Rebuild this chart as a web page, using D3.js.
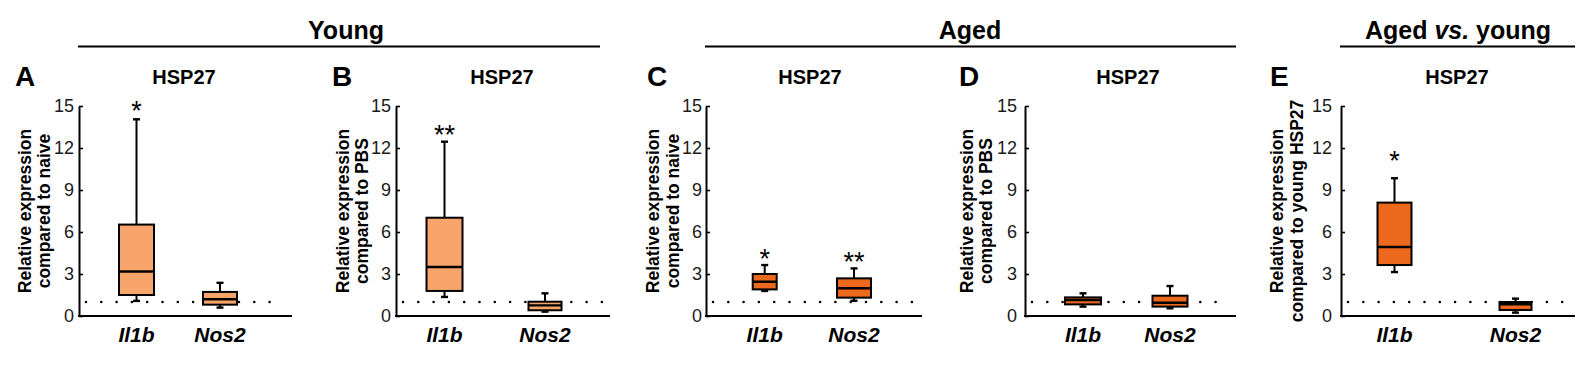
<!DOCTYPE html>
<html>
<head>
<meta charset="utf-8">
<script src="https://cdn.jsdelivr.net/npm/d3@7"></script>
<style>
  html, body { margin: 0; padding: 0; background: #fff; }
  svg { display: block; font-family: "Liberation Sans", Arial, sans-serif; }
</style>
</head>
<body>
<svg id="chart" width="1595" height="365"></svg>
<script>
// ---------------- DATA ----------------
const categories = ["Il1b", "Nos2"];
const panelLetters = ["A", "B", "C", "D", "E"];
const panelTitles = ["HSP27", "HSP27", "HSP27", "HSP27", "HSP27"];
const yTitles = [
  ["Relative expression", "compared to naive"],
  ["Relative expression", "compared to PBS"],
  ["Relative expression", "compared to naive"],
  ["Relative expression", "compared to PBS"],
  ["Relative expression", "compared to young HSP27"]
];
const yTicks = [0, 3, 6, 9, 12, 15];
const yDomain = [0, 15];
const referenceLevel = 1;
// box statistics per category: [min, q1, median, q3, max]
const statsA = [[1.08, 1.5, 3.18, 6.53, 14.05], [0.6, 0.81, 1.2, 1.72, 2.37]];
const statsB = [[1.36, 1.79, 3.5, 7.02, 12.45], [0.31, 0.41, 0.76, 1.02, 1.62]];
const statsC = [[1.79, 1.9, 2.45, 3.0, 3.64], [1.09, 1.31, 1.98, 2.69, 3.4]];
const statsD = [[0.67, 0.83, 1.14, 1.33, 1.62], [0.55, 0.67, 0.95, 1.45, 2.14]];
const statsE = [[3.14, 3.64, 4.93, 8.1, 9.84], [0.24, 0.43, 0.84, 1.0, 1.24]];
const significance = [["*", ""], ["**", ""], ["*", "**"], ["", ""], ["*", ""]];
const groupHeaders = [["Young"], ["Aged"], ["Aged ", "vs.", " young"]];

// ---------------- LAYOUT / STYLE ----------------
const young = "#F8A56B", aged = "#EC681D";
const layout = [
  { x0: 79,   x1: 292,  c: [136.5, 220],     bw: [35, 34], fill: young, t1: -48, t2: -29, pad: 5, sigGap: 7,  letterX: 15,   titleX: 184 },
  { x0: 396,  x1: 610,  c: [444.5, 545],     bw: [36, 33], fill: young, t1: -47, t2: -28, pad: 5, sigGap: 6,  letterX: 332,  titleX: 502 },
  { x0: 706,  x1: 922,  c: [764.7, 854],     bw: [24, 34], fill: aged,  t1: -47, t2: -27, pad: 4, sigGap: 5,  letterX: 647,  titleX: 810 },
  { x0: 1025, x1: 1236, c: [1083, 1170],     bw: [36, 35], fill: aged,  t1: -52, t2: -33, pad: 8, sigGap: 6,  letterX: 959,  titleX: 1128 },
  { x0: 1341, x1: 1575, c: [1394.5, 1515.5], bw: [34, 32], fill: aged,  t1: -58, t2: -38, pad: 9, sigGap: 16, letterX: 1270, titleX: 1457 }
];
const headerLayout = [
  { cx: 346, lx0: 78,   lx1: 600 },
  { cx: 970, lx0: 705,  lx1: 1236 },
  { cx: 1458, lx0: 1340, lx1: 1575 }
];
const allStats = [statsA, statsB, statsC, statsD, statsE];

const svg = d3.select("#chart");
const y = d3.scaleLinear().domain(yDomain).range([316, 106]);

// group headers
headerLayout.forEach((h, i) => {
  const t = svg.append("text")
    .attr("x", h.cx).attr("y", 39)
    .attr("text-anchor", "middle")
    .attr("font-size", 25).attr("font-weight", "bold").attr("fill", "#000");
  groupHeaders[i].forEach(part => {
    t.append("tspan").text(part)
      .attr("font-style", part.trim() === "vs." ? "italic" : "normal");
  });
  svg.append("line")
    .attr("x1", h.lx0).attr("x2", h.lx1).attr("y1", 46.5).attr("y2", 46.5)
    .attr("stroke", "#000").attr("stroke-width", 2.2);
});

allStats.forEach((stats, p) => {
  const L = layout[p];
  const g = svg.append("g");
  const x = d3.scalePoint().domain(categories).range(L.c);

  // panel letter
  g.append("text").attr("x", L.letterX).attr("y", 86)
    .attr("font-size", 28).attr("font-weight", "bold").text(panelLetters[p]);
  // panel title
  g.append("text").attr("x", L.titleX).attr("y", 84)
    .attr("text-anchor", "middle").attr("font-size", 20).attr("font-weight", "bold")
    .text(panelTitles[p]);

  // y axis
  const ax = g.append("g").attr("transform", `translate(${L.x0},0)`)
    .call(d3.axisLeft(y).tickValues(yTicks).tickSizeInner(-4).tickSizeOuter(0).tickPadding(L.pad));
  ax.select(".domain").attr("stroke", "#000").attr("stroke-width", 2);
  ax.selectAll(".tick line").attr("stroke", "#000").attr("stroke-width", 1.6);
  ax.selectAll(".tick text").attr("font-size", 18).attr("fill", "#1a1a1a")
    .attr("font-family", "Liberation Sans, Arial, sans-serif");

  // x axis line
  g.append("line").attr("x1", L.x0 - 1).attr("x2", L.x1)
    .attr("y1", y(0)).attr("y2", y(0)).attr("stroke", "#000").attr("stroke-width", 2);

  // category labels
  categories.forEach(c => {
    g.append("text").attr("x", x(c)).attr("y", y(0) + 26)
      .attr("text-anchor", "middle").attr("font-size", 21)
      .attr("font-weight", "bold").attr("font-style", "italic").text(c);
  });

  // y title
  const ty = (y(0) + y(15)) / 2;
  [L.t1, L.t2].forEach((off, k) => {
    g.append("text")
      .attr("transform", `translate(${L.x0 + off},${ty}) rotate(-90)`)
      .attr("text-anchor", "middle").attr("font-size", 17.5).attr("font-weight", "bold")
      .text(yTitles[p][k]);
  });

  // dotted reference line
  g.append("line").attr("x1", L.x0 + 7).attr("x2", L.x1 - 8)
    .attr("y1", y(referenceLevel)).attr("y2", y(referenceLevel))
    .attr("stroke", "#000").attr("stroke-width", 2.6)
    .attr("stroke-linecap", "round").attr("stroke-dasharray", "0,15.3");

  // boxes
  categories.forEach((c, i) => {
    const [mn, q1, md, q3, mx] = stats[i];
    const cx = x(c), w = L.bw[i], cap = 3.5;
    const bg = g.append("g").attr("stroke", "#000").attr("stroke-width", 2);
    bg.append("line").attr("x1", cx).attr("x2", cx).attr("y1", y(q3)).attr("y2", y(mx));
    bg.append("line").attr("x1", cx).attr("x2", cx).attr("y1", y(q1)).attr("y2", y(mn));
    bg.append("line").attr("x1", cx - cap).attr("x2", cx + cap).attr("y1", y(mx)).attr("y2", y(mx)).attr("stroke-width", 2.4);
    bg.append("line").attr("x1", cx - cap).attr("x2", cx + cap).attr("y1", y(mn)).attr("y2", y(mn)).attr("stroke-width", 2.4);
    bg.append("rect").attr("x", cx - w / 2).attr("width", w)
      .attr("y", y(q3)).attr("height", y(q1) - y(q3)).attr("fill", L.fill);
    bg.append("line").attr("x1", cx - w / 2).attr("x2", cx + w / 2).attr("y1", y(md)).attr("y2", y(md)).attr("stroke-width", 2.4);
    if (significance[p][i]) {
      g.append("text").attr("x", cx).attr("y", y(mx) - L.sigGap + 8)
        .attr("text-anchor", "middle").attr("font-size", 27).text(significance[p][i]);
    }
  });
});
</script>
</body>
</html>
